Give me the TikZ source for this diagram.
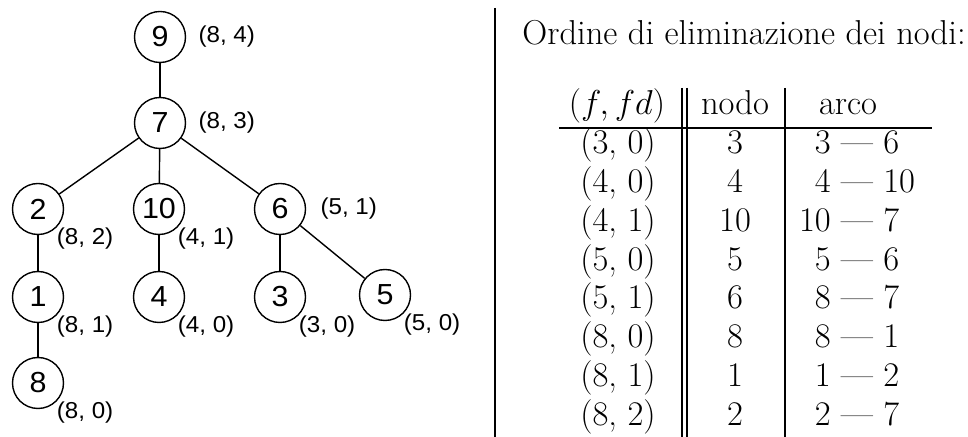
\documentclass[tikz,border=0pt]{standalone}
\usepackage{fontspec}
\newfontfamily\sansalb[FakeStretch=1.05]{Liberation Sans}
\usetikzlibrary{positioning}

\newcommand{\arcotxt}[2]{\makebox[1.1em][r]{#1}~---~\makebox[1.1em][l]{#2}}

\begin{document}
\begin{tikzpicture}[x=0.5pt, y=-0.5pt,
  nodo/.style={draw, circle, line width=0.7pt, minimum size=25.5pt, inner sep=0pt,
    font=\sansalb\fontsize{14.5}{16}\selectfont},
  etich/.style={inner sep=0pt, font=\sansalb\fontsize{11.5}{13}\selectfont},
  arco/.style={line width=0.7pt},
  cella/.style={anchor=base, inner sep=0pt, font=\fontsize{17.28}{20}\selectfont}
]
  \useasboundingbox (0,0) rectangle (968,437);

  % albero
  \node[nodo] (n9)  at (160,37)  {9};
  \node[nodo] (n7)  at (160,123) {7};
  \node[nodo] (n2)  at (38,209)  {2};
  \node[nodo] (n10) at (159,209) {10};
  \node[nodo] (n6)  at (280,209) {6};
  \node[nodo] (n1)  at (38,297)  {1};
  \node[nodo] (n4)  at (159,297) {4};
  \node[nodo] (n3)  at (280,297) {3};
  \node[nodo] (n5)  at (385,295) {5};
  \node[nodo] (n8)  at (38,383)  {8};

  \foreach \a/\b in {9/7, 7/2, 7/10, 7/6, 2/1, 1/8, 10/4, 6/3, 6/5}
    \draw[arco] (n\a) -- (n\b);

  \node[etich, right=6pt of n9] (e9) {(8, 4)};
  \node[etich, right=6pt of n7] (e7) {(8, 3)};
  \node[etich, right=7pt of n6] (e6) {(5, 1)};
  \node[etich, below right=0pt and 0pt of n2]  (e2)  {(8, 2)};
  \node[etich, below right=0pt and 0pt of n10] (e10) {(4, 1)};
  \node[etich, below right=0pt and 0pt of n1]  (e1)  {(8, 1)};
  \node[etich, below right=0pt and 0pt of n4]  (e4)  {(4, 0)};
  \node[etich, below right=0pt and 0pt of n3]  (e3)  {(3, 0)};
  \node[etich, below right=0pt and 0pt of n5]  (e5)  {(5, 0)};
  \node[etich, below right=0pt and 0pt of n8]  (e8)  {(8, 0)};

  % separatore
  \draw[line width=1pt] (495,8) -- (495,437);

  % tabella
  \node[cella, anchor=base west] (titolo) at (522,45) {Ordine di eliminazione dei nodi:};

  \node[cella] (h1) at (617,115) {$(f, fd)$};
  \node[cella] (h2) at (735,115) {nodo};
  \node[cella] (h3) at (848,115) {arco};

  \foreach \p/\q/\k/\a/\b [count=\i] in
      {3/0/3/3/6, 4/0/4/4/10, 4/1/10/10/7, 5/0/5/5/6,
       5/1/6/8/7, 8/0/8/8/1, 8/1/1/1/2, 8/2/2/2/7} {
    \pgfmathsetmacro\yy{154+38.72*(\i-1)}
    \node[cella] (ff\i) at (618,\yy) {(\p, \q)};
    \node[cella] (nd\i) at (735,\yy) {\k};
    \node[cella] (ar\i) at (857,\yy) {\arcotxt{\a}{\b}};
  }

  \draw[line width=1pt] (559,128) -- (932,128);
  \draw[line width=0.65pt] (682,88) -- (682,437);
  \draw[line width=0.65pt] (687,88) -- (687,437);
  \draw[line width=0.65pt] (785,88) -- (785,437);
\end{tikzpicture}
\end{document}
